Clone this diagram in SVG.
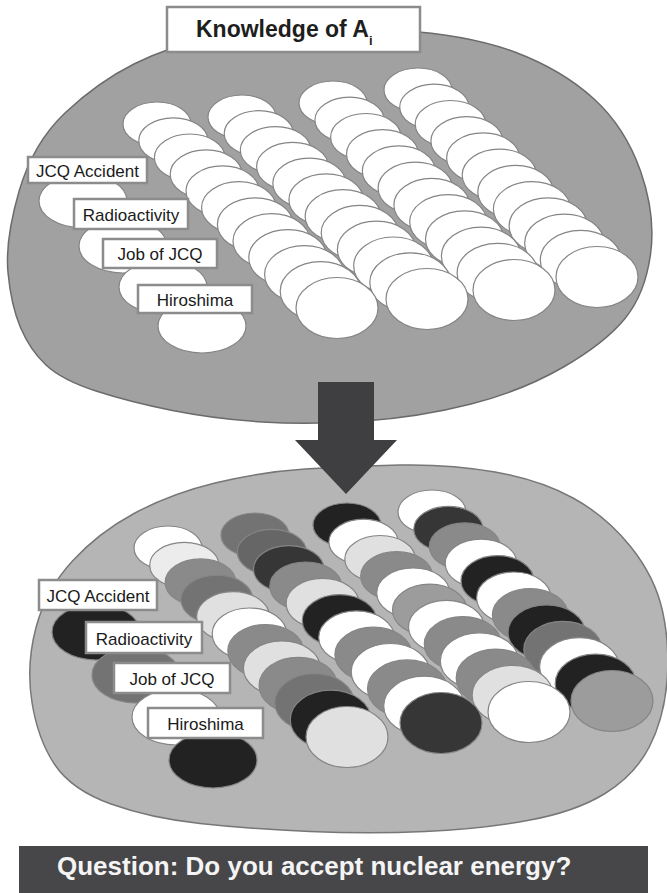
<svg xmlns="http://www.w3.org/2000/svg" width="667" height="893" viewBox="0 0 667 893">
<style>
.plate1{fill:#a1a1a1;stroke:#6b6b6b;stroke-width:1.5}
.plate2{fill:#b5b5b5;stroke:#777;stroke-width:1.5}
ellipse{stroke:#858585;stroke-width:1.2}
.w{fill:#fff}.l{fill:#e0e0e0}.g{fill:#8a8a8a}.m{fill:#737373}.d{fill:#363636}.k{fill:#222}.s{fill:#9c9c9c}
.lbl rect{fill:#fff;stroke:#8c8c8c;stroke-width:2.5}
.lbl text{font-family:"Liberation Sans",Arial,sans-serif;font-size:17px;fill:#1a1a1a;text-anchor:middle}
</style>
<rect width="667" height="893" fill="#fff"/>
<g id="top-plate">
<path class="plate1" d="M 400 30.5 Q 470 35 516 52.5 Q 562 70 593.5 98.5 Q 625 127 640.5 171 Q 656 215 650.5 254.5 Q 645 294 625 318.5 Q 605 343 563.5 367 Q 522 391 471 404 Q 420 417 365 421 Q 310 425 262.5 422 Q 215 419 172.5 410.5 Q 130 402 96 391 Q 62 380 46 365 Q 30 350 20.5 327.5 Q 11 305 8 272.5 Q 5 240 19 191.5 Q 33 143 65.5 112.5 Q 98 82 134 64 Q 170 46 210 38.5 Q 250 31 290 28.5 Q 330 26 400 30.5 Z"/>
<g class="w">
<ellipse cx="418" cy="90" rx="34" ry="22"/><ellipse cx="434.3" cy="107" rx="34.6" ry="22.8"/><ellipse cx="450.5" cy="124" rx="35.3" ry="23.5"/><ellipse cx="466.8" cy="141" rx="35.9" ry="24.3"/><ellipse cx="483.1" cy="158" rx="36.5" ry="25.1"/><ellipse cx="499.4" cy="175" rx="37.2" ry="25.9"/><ellipse cx="515.6" cy="192" rx="37.8" ry="26.6"/><ellipse cx="531.9" cy="209" rx="38.5" ry="27.4"/><ellipse cx="548.2" cy="226" rx="39.1" ry="28.2"/><ellipse cx="564.4" cy="243" rx="39.7" ry="28.9"/><ellipse cx="580.7" cy="260" rx="40.4" ry="29.7"/><ellipse cx="597" cy="277" rx="41" ry="30.5"/>
<ellipse cx="333" cy="103" rx="34" ry="22"/><ellipse cx="349.5" cy="120" rx="34.6" ry="22.8"/><ellipse cx="365.9" cy="137" rx="35.3" ry="23.5"/><ellipse cx="382.4" cy="154" rx="35.9" ry="24.3"/><ellipse cx="398.8" cy="171" rx="36.5" ry="25.1"/><ellipse cx="415.3" cy="188" rx="37.2" ry="25.9"/><ellipse cx="431.7" cy="205" rx="37.8" ry="26.6"/><ellipse cx="448.2" cy="222" rx="38.5" ry="27.4"/><ellipse cx="464.6" cy="239" rx="39.1" ry="28.2"/><ellipse cx="481.1" cy="256" rx="39.7" ry="28.9"/><ellipse cx="497.5" cy="273" rx="40.4" ry="29.7"/><ellipse cx="514" cy="290" rx="41" ry="30.5"/>
<ellipse cx="242" cy="117" rx="34" ry="22"/><ellipse cx="258.8" cy="133.5" rx="34.6" ry="22.8"/><ellipse cx="275.6" cy="150.1" rx="35.3" ry="23.5"/><ellipse cx="292.5" cy="166.6" rx="35.9" ry="24.3"/><ellipse cx="309.3" cy="183.2" rx="36.5" ry="25.1"/><ellipse cx="326.1" cy="199.7" rx="37.2" ry="25.9"/><ellipse cx="342.9" cy="216.3" rx="37.8" ry="26.6"/><ellipse cx="359.7" cy="232.8" rx="38.5" ry="27.4"/><ellipse cx="376.5" cy="249.4" rx="39.1" ry="28.2"/><ellipse cx="393.4" cy="265.9" rx="39.7" ry="28.9"/><ellipse cx="410.2" cy="282.5" rx="40.4" ry="29.7"/><ellipse cx="427" cy="299" rx="41" ry="30.5"/>
<ellipse cx="157" cy="124" rx="34" ry="22"/><ellipse cx="173.4" cy="140.7" rx="34.6" ry="22.8"/><ellipse cx="189.7" cy="157.5" rx="35.3" ry="23.5"/><ellipse cx="206.1" cy="174.2" rx="35.9" ry="24.3"/><ellipse cx="222.5" cy="190.9" rx="36.5" ry="25.1"/><ellipse cx="238.8" cy="207.6" rx="37.2" ry="25.9"/><ellipse cx="255.2" cy="224.4" rx="37.8" ry="26.6"/><ellipse cx="271.5" cy="241.1" rx="38.5" ry="27.4"/><ellipse cx="287.9" cy="257.8" rx="39.1" ry="28.2"/><ellipse cx="304.3" cy="274.5" rx="39.7" ry="28.9"/><ellipse cx="320.6" cy="291.3" rx="40.4" ry="29.7"/><ellipse cx="337" cy="308" rx="41" ry="30.5"/>
<ellipse cx="83" cy="201" rx="44" ry="27"/><ellipse cx="123" cy="246" rx="44" ry="27"/><ellipse cx="163" cy="287" rx="44" ry="27"/><ellipse cx="202" cy="326" rx="44" ry="27"/>
</g>
</g>
<g id="title" class="lbl">
<rect x="167" y="7" width="253" height="45"/>
<text x="196" y="37" style="font-weight:bold;font-size:23px;text-anchor:start;fill:#1e1e1e">Knowledge of A<tspan dy="8" style="font-size:13px">i</tspan></text>
</g>
<g id="top-jcq-accident" class="lbl"><rect x="28" y="157" width="119" height="26"/><text x="87.5" y="177">JCQ Accident</text></g>
<g id="top-radioactivity" class="lbl"><rect x="74" y="199" width="114" height="30"/><text x="131" y="221">Radioactivity</text></g>
<g id="top-job-of-jcq" class="lbl"><rect x="103" y="239" width="114" height="29"/><text x="160" y="260">Job of JCQ</text></g>
<g id="top-hiroshima" class="lbl"><rect x="138" y="285" width="114" height="28"/><text x="195" y="306">Hiroshima</text></g>

<g id="bottom-plate">
<path class="plate2" d="M 400 465 Q 450 464 495 472 Q 540 480 573 498 Q 606 516 630.5 546.5 Q 655 577 662.5 611 Q 670 645 667 681.5 Q 664 718 649.5 746.5 Q 635 775 605 793.5 Q 575 812 527.5 820.5 Q 480 829 425 831.5 Q 370 834 310 831.5 Q 250 829 200 823.5 Q 150 818 111 804 Q 72 790 55 765 Q 38 740 32 702.5 Q 26 665 36 627.5 Q 46 590 72 561.5 Q 98 533 134 513.5 Q 170 494 215 483 Q 260 472 305 469 Q 350 466 400 465 Z"/>
<ellipse class="w" cx="432" cy="512" rx="34" ry="22"/><ellipse class="d" cx="448.4" cy="529.2" rx="34.6" ry="22.8"/><ellipse class="g" cx="464.7" cy="546.4" rx="35.3" ry="23.5"/><ellipse class="w" cx="481.1" cy="563.5" rx="35.9" ry="24.3"/><ellipse class="k" cx="497.5" cy="580.7" rx="36.5" ry="25.1"/><ellipse class="w" cx="513.8" cy="597.9" rx="37.2" ry="25.9"/><ellipse class="g" cx="530.2" cy="615.1" rx="37.8" ry="26.6"/><ellipse class="k" cx="546.5" cy="632.3" rx="38.5" ry="27.4"/><ellipse class="m" cx="562.9" cy="649.5" rx="39.1" ry="28.2"/><ellipse class="w" cx="579.3" cy="666.6" rx="39.7" ry="28.9"/><ellipse class="k" cx="595.6" cy="683.8" rx="40.4" ry="29.7"/><ellipse class="s" cx="612" cy="701" rx="41" ry="30.5"/>
<ellipse class="k" cx="347" cy="525" rx="34" ry="22"/><ellipse class="w" cx="363.5" cy="542" rx="34.6" ry="22.8"/><ellipse class="l" cx="380.1" cy="559" rx="35.3" ry="23.5"/><ellipse class="g" cx="396.6" cy="576" rx="35.9" ry="24.3"/><ellipse class="w" cx="413.2" cy="593" rx="36.5" ry="25.1"/><ellipse class="s" cx="429.7" cy="610" rx="37.2" ry="25.9"/><ellipse class="w" cx="446.3" cy="627" rx="37.8" ry="26.6"/><ellipse class="g" cx="462.8" cy="644" rx="38.5" ry="27.4"/><ellipse class="w" cx="479.4" cy="661" rx="39.1" ry="28.2"/><ellipse class="g" cx="495.9" cy="678" rx="39.7" ry="28.9"/><ellipse class="l" cx="512.5" cy="695" rx="40.4" ry="29.7"/><ellipse class="w" cx="529" cy="712" rx="41" ry="30.5"/>
<ellipse class="m" cx="255" cy="535" rx="34" ry="22"/><ellipse style="fill:#666" cx="271.9" cy="552.1" rx="34.6" ry="22.8"/><ellipse class="d" cx="288.8" cy="569.2" rx="35.3" ry="23.5"/><ellipse class="g" cx="305.7" cy="586.3" rx="35.9" ry="24.3"/><ellipse class="l" cx="322.6" cy="603.4" rx="36.5" ry="25.1"/><ellipse class="k" cx="339.5" cy="620.5" rx="37.2" ry="25.9"/><ellipse class="w" cx="356.5" cy="637.5" rx="37.8" ry="26.6"/><ellipse class="g" cx="373.4" cy="654.6" rx="38.5" ry="27.4"/><ellipse class="w" cx="390.3" cy="671.7" rx="39.1" ry="28.2"/><ellipse class="g" cx="407.2" cy="688.8" rx="39.7" ry="28.9"/><ellipse class="w" cx="424.1" cy="705.9" rx="40.4" ry="29.7"/><ellipse class="d" cx="441" cy="723" rx="41" ry="30.5"/>
<ellipse class="w" cx="168" cy="548" rx="34" ry="22"/><ellipse style="fill:#ececec" cx="184.3" cy="565.2" rx="34.6" ry="22.8"/><ellipse class="g" cx="200.5" cy="582.4" rx="35.3" ry="23.5"/><ellipse class="m" cx="216.8" cy="599.5" rx="35.9" ry="24.3"/><ellipse class="l" cx="233.1" cy="616.7" rx="36.5" ry="25.1"/><ellipse class="w" cx="249.4" cy="633.9" rx="37.2" ry="25.9"/><ellipse class="g" cx="265.6" cy="651.1" rx="37.8" ry="26.6"/><ellipse class="l" cx="281.9" cy="668.3" rx="38.5" ry="27.4"/><ellipse class="g" cx="298.2" cy="685.5" rx="39.1" ry="28.2"/><ellipse class="m" cx="314.5" cy="702.6" rx="39.7" ry="28.9"/><ellipse class="k" cx="330.7" cy="719.8" rx="40.4" ry="29.7"/><ellipse class="l" cx="347" cy="737" rx="41" ry="30.5"/>
<ellipse class="k" cx="96" cy="632" rx="44" ry="28"/><ellipse class="m" cx="136" cy="675" rx="44" ry="28"/><ellipse class="w" cx="176" cy="717" rx="44" ry="28"/><ellipse class="k" cx="213" cy="760" rx="44" ry="28"/>
</g>
<g id="bottom-jcq-accident" class="lbl"><rect x="39" y="580" width="118" height="30"/><text x="98" y="602">JCQ Accident</text></g>
<g id="bottom-radioactivity" class="lbl"><rect x="86" y="622" width="116" height="31"/><text x="144" y="644.5">Radioactivity</text></g>
<g id="bottom-job-of-jcq" class="lbl"><rect x="114" y="663" width="116" height="30"/><text x="172" y="685">Job of JCQ</text></g>
<g id="bottom-hiroshima" class="lbl"><rect x="148" y="708" width="115" height="30"/><text x="205.5" y="730">Hiroshima</text></g>

<g id="connectors">
<polygon points="318,382 374,382 374,440 397,440 346,494 295,440 318,440" fill="#3f3f41"/>
</g>
<g id="question">
<rect x="19" y="846" width="629" height="47" fill="#47474a"/>
<text x="57" y="875" style="font-family:'Liberation Sans',Arial,sans-serif;font-weight:bold;font-size:26px;fill:#f4f4f4">Question: Do you accept nuclear energy?</text>
</g>
</svg>
